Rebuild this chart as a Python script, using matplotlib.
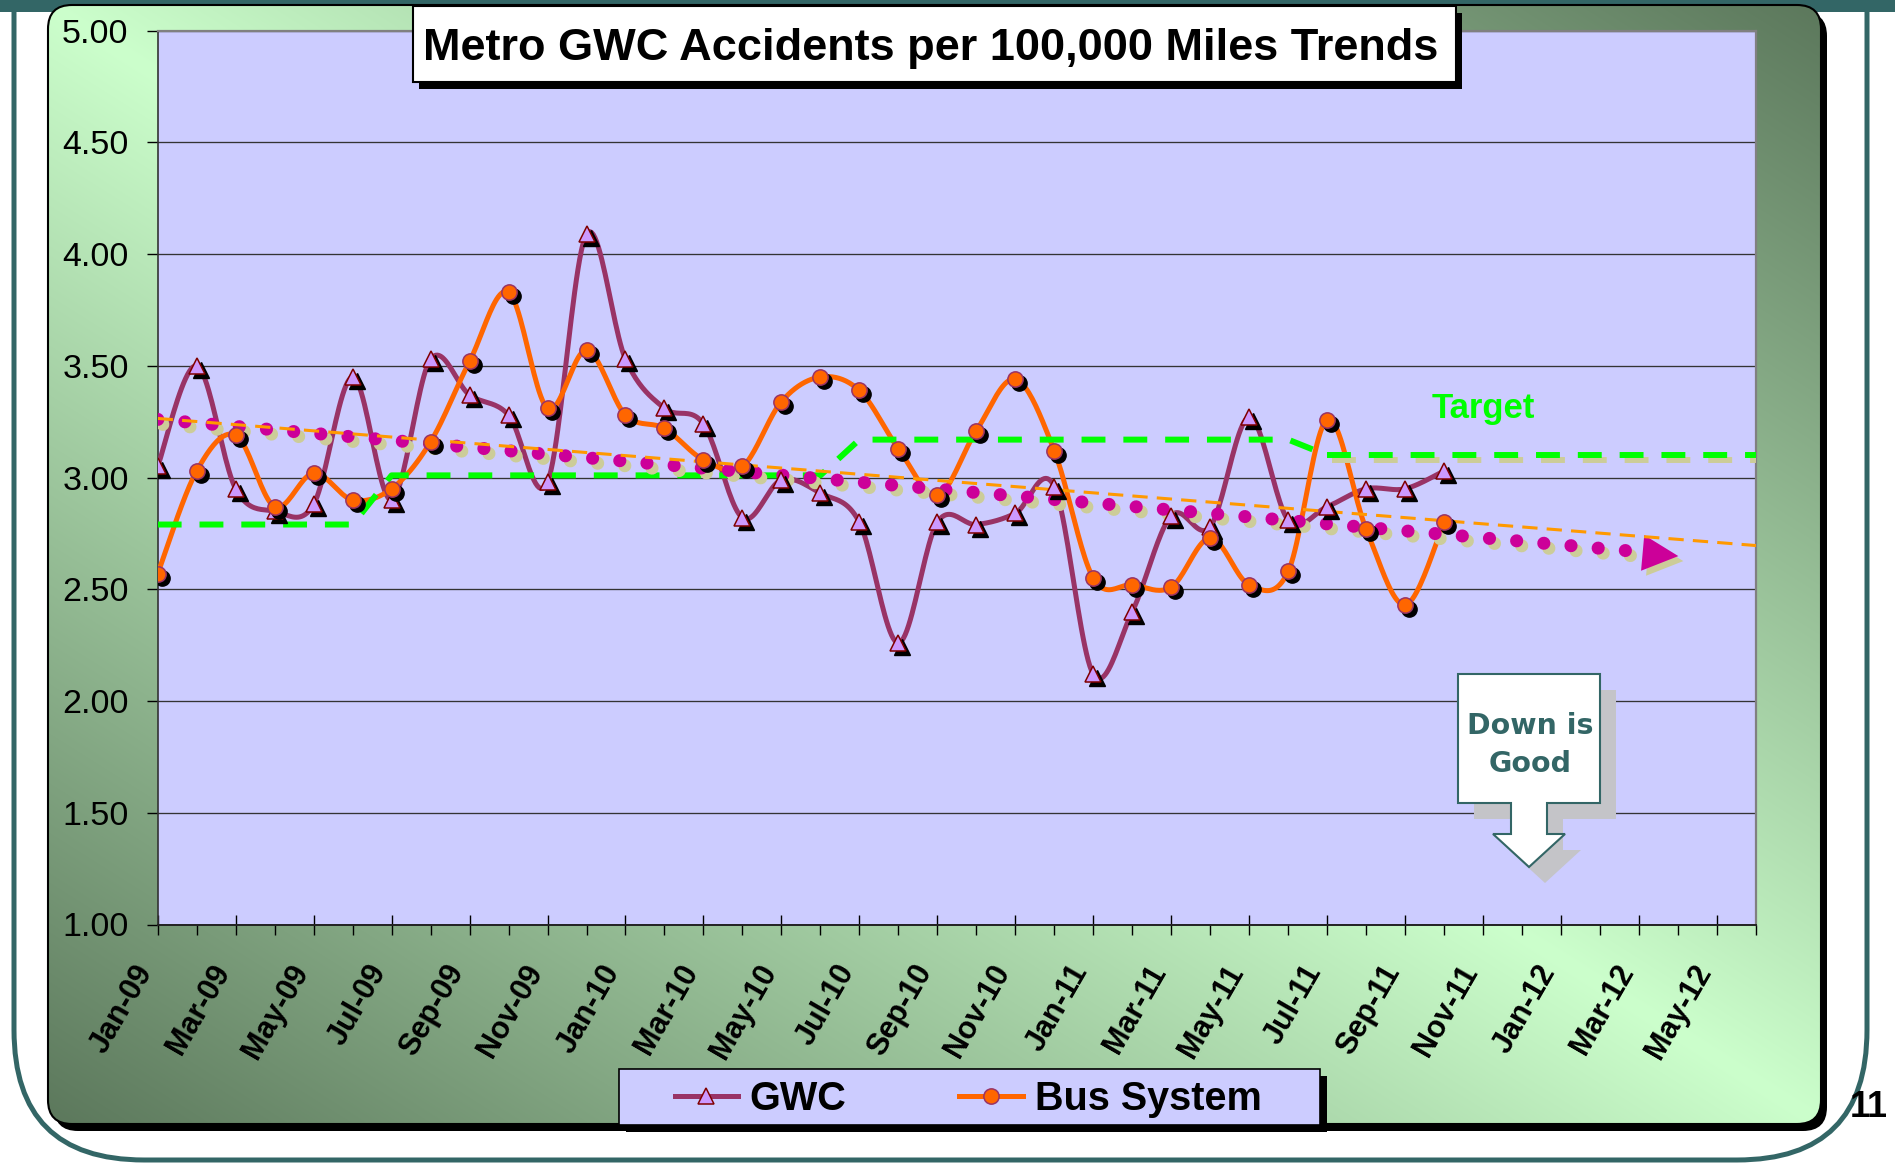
import numpy as np
import matplotlib.pyplot as plt
import matplotlib.transforms as mtransforms
from matplotlib.patches import FancyBboxPatch, Rectangle, Polygon
from matplotlib.lines import Line2D

plt.rcParams['font.family'] = ['Liberation Sans', 'DejaVu Sans']

# ===============================
# Data
# ===============================
tick_labels = ['Jan-09', 'Mar-09', 'May-09', 'Jul-09', 'Sep-09', 'Nov-09',
               'Jan-10', 'Mar-10', 'May-10', 'Jul-10', 'Sep-10', 'Nov-10',
               'Jan-11', 'Mar-11', 'May-11', 'Jul-11', 'Sep-11', 'Nov-11',
               'Jan-12', 'Mar-12', 'May-12']
n_months = 42          # Jan-09 .. Jun-12 on the category axis

# Jan-09 .. Oct-11
gwc = [3.05, 3.50, 2.95, 2.85, 2.88, 3.45, 2.90, 3.53, 3.37, 3.28, 2.98, 4.09,
       3.53, 3.31, 3.24, 2.82, 2.99, 2.93, 2.80, 2.26, 2.80, 2.79, 2.84, 2.96,
       2.12, 2.40, 2.83, 2.78, 3.27, 2.81, 2.87, 2.95, 2.95, 3.03]
bus = [2.57, 3.03, 3.19, 2.87, 3.02, 2.90, 2.95, 3.16, 3.52, 3.83, 3.31, 3.57,
       3.28, 3.22, 3.08, 3.05, 3.34, 3.45, 3.39, 3.13, 2.92, 3.21, 3.44, 3.12,
       2.55, 2.52, 2.51, 2.73, 2.52, 2.58, 3.26, 2.77, 2.43, 2.80]

# target, Jan-09 .. Jul-11
target = [2.79, 2.79, 2.79, 2.79, 2.79, 2.79,
          3.01, 3.01, 3.01, 3.01, 3.01, 3.01, 3.01, 3.01, 3.01, 3.01, 3.01, 3.01,
          3.17, 3.17, 3.17, 3.17, 3.17, 3.17, 3.17, 3.17, 3.17, 3.17, 3.17, 3.17,
          3.10]
# new target, Jul-11 .. Jun-12
target_new = [3.10, 3.10, 3.10, 3.10, 3.10, 3.10, 3.10, 3.10, 3.10, 3.10, 3.10, 3.10]
target_new_start = 30

gwc_forecast = 6       # trendline periods forward
bus_forecast = 8

# ===============================
# Colours
# ===============================
TEAL = '#336666'
LAVENDER = '#CCCCFF'
C_GWC = '#993366'
C_BUS = '#FF6600'
C_TARGET = '#00FF00'
C_SHADOW = '#CCCC99'


def smooth_curve(x, y, steps=24):
    # Bezier smoothing like the spreadsheet "smoothed line"
    p = np.column_stack([x, y]).astype(float)
    pts = [p[0]]
    for k in range(len(p) - 1):
        p0 = p[max(k - 1, 0)]
        p1, p2 = p[k], p[k + 1]
        p3 = p[min(k + 2, len(p) - 1)]
        c1 = p1 + (p2 - p0) / 6.0
        c2 = p2 - (p3 - p1) / 6.0
        t = np.linspace(0, 1, steps)[1:, None]
        seg = ((1 - t) ** 3) * p1 + 3 * (1 - t) ** 2 * t * c1 + 3 * (1 - t) * t ** 2 * c2 + t ** 3 * p2
        pts.extend(seg)
    pts = np.array(pts)
    return pts[:, 0], pts[:, 1]


W, H = 1895, 1163
fig = plt.figure(figsize=(W / 100, H / 100), dpi=100)
fig.patch.set_facecolor('white')

# ===============================
# Slide background / panel
# ===============================
bg = fig.add_axes([0, 0, 1, 1], zorder=0)
bg.set_xlim(0, W)
bg.set_ylim(H, 0)
bg.axis('off')

bg.add_patch(Rectangle((0, 0), W, 12, color=TEAL, lw=0))
bg.add_patch(FancyBboxPatch((14, -300), 1853, 1460, boxstyle='round,pad=0,rounding_size=130',
                            fc='none', ec=TEAL, lw=3.6))

px0, py0, pw, ph = 48, 5, 1773, 1119
bg.add_patch(FancyBboxPatch((px0 + 6, py0 + 7), pw, ph, boxstyle='round,pad=0,rounding_size=24',
                            fc='black', ec='black', lw=0))
panel = FancyBboxPatch((px0, py0), pw, ph, boxstyle='round,pad=0,rounding_size=24',
                       fc='none', ec='black', lw=1.5, zorder=3)
bg.add_patch(panel)
gx, gy = np.meshgrid(np.linspace(0, 1, 400), np.linspace(0, 1, 260))
tt = np.abs(gx - gy)[..., None]
light = np.array([204, 255, 204]) / 255
dark = np.array([92, 120, 92]) / 255
grad = light * (1 - tt) + dark * tt
im = bg.imshow(grad, extent=(px0, px0 + pw, py0 + ph, py0), aspect='auto',
               interpolation='bilinear', zorder=1)
im.set_clip_path(panel)

# ===============================
# Plot area
# ===============================
left, right, top, bottom = 157.7, 1756, 30.7, 924.5
ax = fig.add_axes([left / W, 1 - bottom / H, (right - left) / W, (bottom - top) / H], zorder=2)
ax.set_facecolor(LAVENDER)
ax.set_xlim(0, n_months - 1)
ax.set_ylim(1, 5)

ax.set_yticks(np.arange(1, 5.01, 0.5))
ax.set_yticklabels(['%.2f' % v for v in np.arange(1, 5.01, 0.5)])
ax.tick_params(axis='y', labelsize=24.5, pad=13, length=7.9, width=1, direction='out')
ax.set_xticks(np.arange(0, n_months - 1, 2))
ax.set_xticklabels(tick_labels, rotation=60, ha='right', va='top', rotation_mode='anchor',
                   fontsize=22, fontweight='bold')
ax.set_xticks(np.arange(0, n_months), minor=True)
ax.tick_params(axis='x', which='major', direction='inout', length=14.4, pad=18, width=1)
ax.tick_params(axis='x', which='minor', direction='out', length=7.2, width=1)
shift = mtransforms.ScaledTranslation(-0.25, 0, fig.dpi_scale_trans)
for lbl in ax.get_xticklabels():
    lbl.set_transform(lbl.get_transform() + shift)
ax.yaxis.grid(True, color='#333333', lw=0.95)
ax.set_axisbelow(True)
for s in ['top', 'right']:
    ax.spines[s].set_color('#808080')
    ax.spines[s].set_linewidth(1.6)
ax.spines['left'].set_color('#333333')
ax.spines['left'].set_linewidth(1.2)
ax.spines['bottom'].set_color('#222222')
ax.spines['bottom'].set_linewidth(1.4)

shadow5 = mtransforms.offset_copy(ax.transData, fig=fig, x=5, y=-5, units='dots')
shadow4 = mtransforms.offset_copy(ax.transData, fig=fig, x=4, y=-4, units='dots')

xs = np.arange(len(gwc))

# series lines
sx, sy = smooth_curve(xs, gwc)
ax.plot(sx, sy, color=C_GWC, lw=3.6, solid_joinstyle='round', zorder=3)
sx, sy = smooth_curve(xs, bus)
ax.plot(sx, sy, color=C_BUS, lw=3.6, solid_joinstyle='round', zorder=3.2)

# target lines
ax.plot(np.arange(len(target)), target, color=C_TARGET, lw=4.3, dashes=(4, 3), zorder=3.4)
tx = np.arange(len(target_new)) + target_new_start
ax.plot(tx, target_new, color=C_SHADOW, lw=4.3, dashes=(4, 3), transform=shadow5, zorder=3.3)
ax.plot(tx, target_new, color=C_TARGET, lw=4.3, dashes=(4, 3), zorder=3.4)
ax.text(32.67, 3.267, 'Target', color=C_TARGET, fontsize=25, fontweight='bold',
        ha='left', va='baseline', zorder=6)

# GWC linear trendline (dotted, arrow end)
k_g, b_g = np.polyfit(xs, gwc, 1)
g_end = len(gwc) - 1 + gwc_forecast
gx_t = np.array([0, g_end - 0.45])
ax.plot(gx_t, k_g * gx_t + b_g, color=C_SHADOW, lw=9.4, dashes=(0.01, 2.08),
        dash_capstyle='round', transform=shadow5, zorder=4)
ax.plot(gx_t, k_g * gx_t + b_g, color='#CC0099', lw=9.4, dashes=(0.01, 2.08),
        dash_capstyle='round', zorder=4.1)
ppx = ax.bbox.width / (n_months - 1)
ppy = ax.bbox.height / 4
ang = np.arctan2(k_g * ppy, ppx)
rot = np.array([[np.cos(ang), -np.sin(ang)], [np.sin(ang), np.cos(ang)]])
tri = (rot @ np.array([[1, 0], [-1, 1], [-1, -1]]).T).T
xc = g_end - 0.45
ax.plot([xc], [k_g * xc + b_g], marker=tri, ms=28, color=C_SHADOW, mew=0,
        transform=shadow5, zorder=4)
ax.plot([xc], [k_g * xc + b_g], marker=tri, ms=28, color='#CC0099', mew=0, zorder=4.1)

# Bus linear trendline (thin dashed)
k_b, b_b = np.polyfit(xs, bus, 1)
bx_t = np.array([0, len(bus) - 1 + bus_forecast])
ax.plot(bx_t, k_b * bx_t + b_b, color='#FF9900', lw=2.2, dashes=(5, 3), zorder=4.2)

# markers with drop shadows
ax.plot(xs, gwc, ls='none', marker='^', ms=11.5, color='black', transform=shadow4, zorder=5)
ax.plot(xs, gwc, ls='none', marker='^', ms=11.5, mfc='#CC99FF', mec='#800000', mew=1.1, zorder=5.1)
ax.plot(xs, bus, ls='none', marker='o', ms=11, color='black', transform=shadow4, zorder=5.2)
ax.plot(xs, bus, ls='none', marker='o', ms=11, mfc=C_BUS, mec=C_GWC, mew=1.1, zorder=5.3)

# ===============================
# Overlay: title box, legend box, callout
# ===============================
ov = fig.add_axes([0, 0, 1, 1], zorder=5)
ov.set_xlim(0, W)
ov.set_ylim(H, 0)
ov.axis('off')

ov.add_patch(Rectangle((419, 13), 1043, 76, fc='black', lw=0))
ov.add_patch(Rectangle((413, 6), 1043, 76, fc='white', ec='black', lw=1.5))
fig.text(931 / W, 1 - 60 / H, 'Metro GWC Accidents per 100,000 Miles Trends',
         ha='center', va='baseline', fontsize=32.5, fontweight='bold', zorder=10)

ov.add_patch(Rectangle((626, 1076), 701, 56, fc='black', lw=0))
ov.add_patch(Rectangle((619, 1069), 701, 56, fc=LAVENDER, ec='black', lw=1.2))
h1 = Line2D([], [], color=C_GWC, lw=3.6, marker='^', ms=11.5, mfc='#CC99FF', mec='#800000', mew=1.1)
h2 = Line2D([], [], color=C_BUS, lw=3.6, marker='o', ms=11, mfc=C_BUS, mec=C_GWC, mew=1.1)
leg = fig.legend([h1, h2], ['GWC', 'Bus System'], loc='center',
                 bbox_to_anchor=(968 / W, 1 - 1098.5 / H), ncol=2, frameon=False,
                 prop={'weight': 'bold', 'size': 28.5}, handlelength=1.6,
                 handletextpad=0.3, columnspacing=2.85, borderpad=0, borderaxespad=0)
leg.set_zorder(10)

callout = np.array([[1458, 674], [1600, 674], [1600, 803], [1547, 803], [1547, 834],
                    [1565, 834], [1529, 867], [1493, 834], [1511, 834], [1511, 803],
                    [1458, 803]])
ov.add_patch(Polygon(callout + 16, closed=True, fc='#C4C4C8', lw=0))
ov.add_patch(Polygon(callout, closed=True, fc='white', ec=TEAL, lw=1.5))
fig.text(1530 / W, 1 - 734 / H, 'Down is', family='DejaVu Sans', fontweight='bold',
         fontsize=20.5, color=TEAL, ha='center', va='baseline', zorder=10)
fig.text(1530 / W, 1 - 771.7 / H, 'Good', family='DejaVu Sans', fontweight='bold',
         fontsize=20.5, color=TEAL, ha='center', va='baseline', zorder=10)

fig.text(1869 / W, 1 - 1117 / H, '11', ha='center', va='baseline', fontsize=26,
         fontweight='bold', zorder=10)

fig.savefig('out.png', dpi=100)
